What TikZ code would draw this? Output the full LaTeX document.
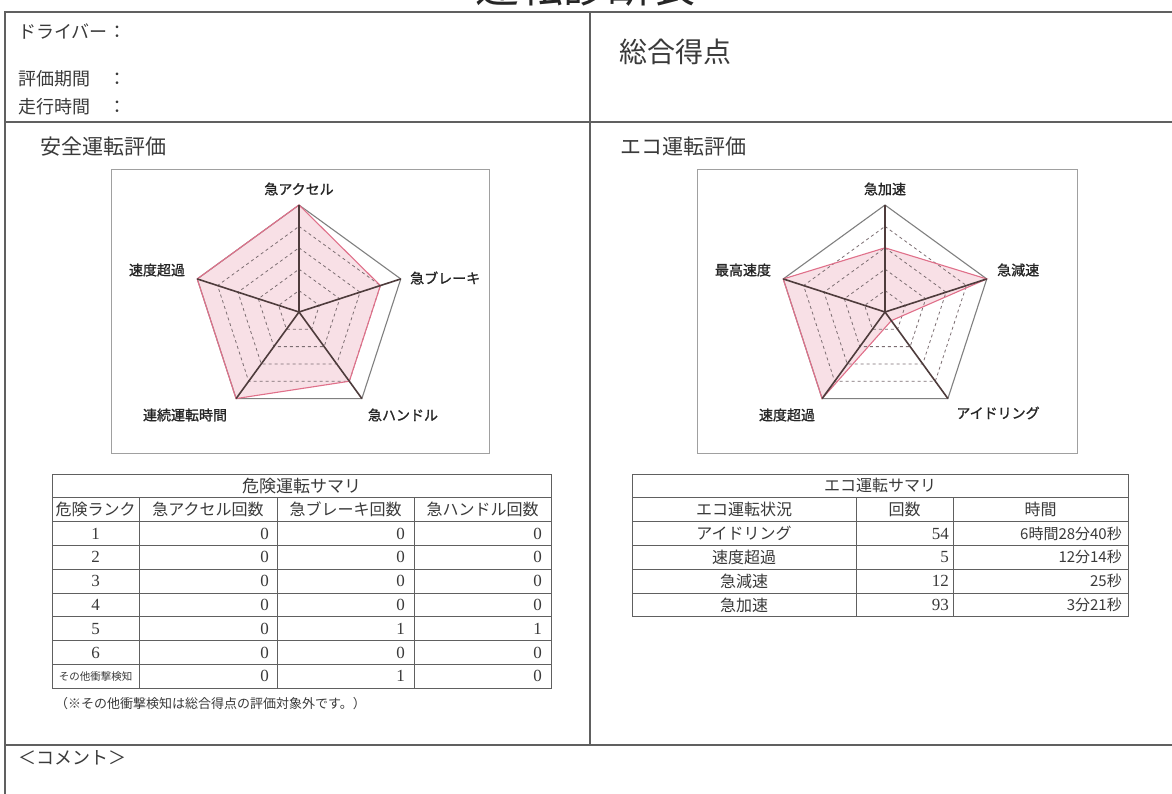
\documentclass[tikz,border=0pt]{standalone}
\usepackage{fontspec}
\setmainfont{Liberation Serif}
\newfontfamily\jp{Noto Sans CJK JP}
\newfontfamily\jpbold[FakeBold=1.2]{Noto Sans CJK JP}

\definecolor{framegray}{HTML}{606060}
\definecolor{boxgray}{HTML}{A0A0A0}
\definecolor{inkgray}{HTML}{3A3A3A}
\definecolor{axisdark}{HTML}{4E3C3C}
\definecolor{outergray}{HTML}{808080}
\definecolor{gridgray}{HTML}{7C6E72}
\definecolor{pinkline}{HTML}{E0708A}
\definecolor{pinkfill}{HTML}{F8E0E6}

\newcommand{\fsz}[1]{\fontsize{#1}{#1}\selectfont}

\begin{document}
\begin{tikzpicture}[x=1pt,y=-1pt,
    frameline/.style={draw=framegray, line width=1.4pt},
    chartbox/.style={draw=boxgray, line width=1pt},
    tableline/.style={draw=framegray, line width=0.9pt},
    hdr/.style={font=\jp\fsz{18}, text=inkgray, inner sep=0},
    sect/.style={font=\jp\fsz{21}, text=inkgray, inner sep=0, anchor=west},
    axlbl/.style={font=\jpbold\fsz{14}, text=black!85, inner sep=0},
    cell/.style={font=\jp\fsz{16}, text=inkgray, inner sep=0},
    num/.style={font=\fsz{17}, text=inkgray, inner sep=0, anchor=east},
    gridline/.style={draw=gridgray, dashed, line width=0.8pt},
    outerline/.style={draw=outergray, line width=1.1pt},
    axisline/.style={draw=axisdark, line width=1.6pt},
    dataline/.style={draw=pinkline, line width=1.1pt},
    datafill/.style={fill=pinkfill}]
  \clip (0,0) rectangle (1172,793);
  \fill[white] (0,0) rectangle (1172,793);

  % Title (cut off at the top edge)
  \node[anchor=base, font=\jp\fsz{44}, text=black!85, inner sep=0] (title) at (585,2) {運転診断表};

  % Frame
  \draw[frameline] (5,12) rectangle (1190,810);
  \draw[frameline] (5,122) -- (1190,122);
  \draw[frameline] (5,745) -- (1190,745);
  \draw[frameline] (590,12) -- (590,745);

  % Header
  \node[hdr, anchor=west] (driver) at (18,32) {ドライバー};
  \node[hdr, anchor=west] (period) at (18,79) {評価期間};
  \node[hdr, anchor=west] (runtime) at (18,107) {走行時間};
  \node[hdr] (colon1) at (117,32) {：};
  \node[hdr] (colon2) at (117,79) {：};
  \node[hdr] (colon3) at (117,107) {：};
  \node[hdr, font=\jp\fsz{28}, anchor=west] (score) at (619,52) {総合得点};

  % Sections
  \node[sect] (safe) at (40,147) {安全運転評価};
  \node[sect] (eco) at (620,147) {エコ運転評価};
  \draw[chartbox] (111,169) rectangle (489,453);
  \draw[chartbox] (697,169) rectangle (1077,453);

  % Safety radar
  \begin{scope}[shift={(299,312)}]
    \fill[datafill] (-90:107) -- (-18:85.6) -- (54:85.6) -- (126:107) -- (198:107) -- cycle;
    \foreach \k in {1,...,4}
      \draw[gridline] (-90:{21.4*\k}) -- (-18:{21.4*\k}) -- (54:{21.4*\k}) -- (126:{21.4*\k}) -- (198:{21.4*\k}) -- cycle;
    \draw[outerline] (-90:107) -- (-18:107) -- (54:107) -- (126:107) -- (198:107) -- cycle;
    \draw[dataline] (-90:107) -- (-18:85.6) -- (54:85.6) -- (126:107) -- (198:107) -- cycle;
    \foreach \a in {-90,-18,54,126,198}
      \draw[axisline] (0,0) -- (\a:107);
  \end{scope}
  \node[axlbl] (sa) at (299,189) {急アクセル};
  \node[axlbl, anchor=west] (sb) at (410,278) {急ブレーキ};
  \node[axlbl] (sh) at (403,415) {急ハンドル};
  \node[axlbl] (sl) at (185,415) {連続運転時間};
  \node[axlbl] (ss) at (157,270) {速度超過};

  % Eco radar
  \begin{scope}[shift={(885,312)}]
    \fill[datafill] (-90:64.2) -- (-18:107) -- (54:10.7) -- (126:107) -- (198:107) -- cycle;
    \foreach \k in {1,...,4}
      \draw[gridline] (-90:{21.4*\k}) -- (-18:{21.4*\k}) -- (54:{21.4*\k}) -- (126:{21.4*\k}) -- (198:{21.4*\k}) -- cycle;
    \draw[outerline] (-90:107) -- (-18:107) -- (54:107) -- (126:107) -- (198:107) -- cycle;
    \draw[dataline] (-90:64.2) -- (-18:107) -- (54:10.7) -- (126:107) -- (198:107) -- cycle;
    \foreach \a in {-90,-18,54,126,198}
      \draw[axisline] (0,0) -- (\a:107);
  \end{scope}
  \node[axlbl] (ea) at (885,189) {急加速};
  \node[axlbl, anchor=west] (ed) at (997,270) {急減速};
  \node[axlbl] (ei) at (998,413) {アイドリング};
  \node[axlbl] (es) at (787,415) {速度超過};
  \node[axlbl] (em) at (743,270) {最高速度};

  % Danger summary table
  \draw[tableline] (52,474) rectangle (551,688.2);
  \foreach \k in {1,...,8}
    \draw[tableline] (52,{474+23.8*\k}) -- (551,{474+23.8*\k});
  \foreach \xx in {139,277,414}
    \draw[tableline] (\xx,497.8) -- (\xx,688.2);
  \node[cell, font=\jp\fsz{17}] (dtitle) at (301.5,485.9) {危険運転サマリ};
  \node[cell] (dh1) at (95.5,509.7) {危険ランク};
  \node[cell] (dh2) at (208,509.7) {急アクセル回数};
  \node[cell] (dh3) at (345.5,509.7) {急ブレーキ回数};
  \node[cell] (dh4) at (482.5,509.7) {急ハンドル回数};
  \foreach \rk/\na/\nb/\nc [count=\i] in {1/0/0/0,2/0/0/0,3/0/0/0,4/0/0/0,5/0/1/1,6/0/0/0} {
    \node[num, anchor=center] (rk\i) at (95.5,{474+23.8*(\i+1.5)}) {\rk};
    \node[num] (na\i) at (269,{474+23.8*(\i+1.5)}) {\na};
    \node[num] (nb\i) at (405,{474+23.8*(\i+1.5)}) {\nb};
    \node[num] (nc\i) at (542,{474+23.8*(\i+1.5)}) {\nc};
  }
  \node[cell, font=\jp\fsz{10.5}] (rk7) at (95.5,676.3) {その他衝撃検知};
  \node[num] (na7) at (269,676.3) {0};
  \node[num] (nb7) at (405,676.3) {1};
  \node[num] (nc7) at (542,676.3) {0};
  \node[cell, font=\jp\fsz{13}, anchor=west] (note) at (55,704) {（※その他衝撃検知は総合得点の評価対象外です。）};

  % Eco summary table
  \draw[tableline] (632,474) rectangle (1128,616.8);
  \foreach \k in {1,...,5}
    \draw[tableline] (632,{474+23.8*\k}) -- (1128,{474+23.8*\k});
  \foreach \xx in {856,953}
    \draw[tableline] (\xx,497.8) -- (\xx,616.8);
  \node[cell] (etitle) at (880,485.9) {エコ運転サマリ};
  \node[cell] (eh1) at (744,509.7) {エコ運転状況};
  \node[cell] (eh2) at (904.5,509.7) {回数};
  \node[cell] (eh3) at (1040.5,509.7) {時間};
  \foreach \nm/\cnt/\tm [count=\i] in {アイドリング/54/6時間28分40秒,速度超過/5/12分14秒,急減速/12/25秒,急加速/93/3分21秒} {
    \node[cell] (en\i) at (744,{474+23.8*(\i+1.5)}) {\nm};
    \node[num] (ec\i) at (949,{474+23.8*(\i+1.5)}) {\cnt};
    \node[cell, font=\jp\fsz{15}, anchor=east] (et\i) at (1122,{474+23.8*(\i+1.5)}) {\tm};
  }

  % Comment
  \node[hdr, anchor=west] (comment) at (18,758) {＜コメント＞};
\end{tikzpicture}
\end{document}
